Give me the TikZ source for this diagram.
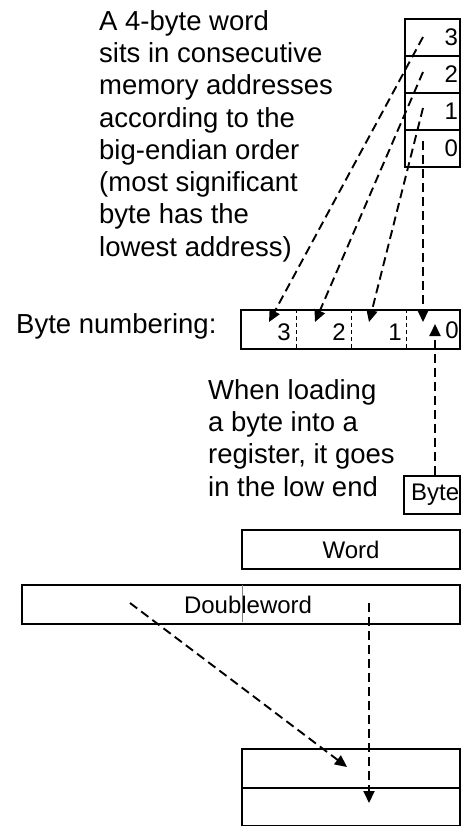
\documentclass[tikz,border=0pt]{standalone}
\usepackage{fontspec}
\setmainfont{Liberation Sans}
\usetikzlibrary{arrows.meta}
\begin{document}
\begin{tikzpicture}[x=1pt,y=-1pt,
  box/.style={draw, line width=2.1pt, inner sep=0pt, anchor=north west,
    font=\fontsize{24}{28}\selectfont},
  memcell/.style={box, minimum width=55pt, minimum height=37pt,
    text width=51pt, align=right},
  note/.style={anchor=north west, inner sep=0pt, align=left,
    font=\fontsize{27.5}{32.3}\selectfont},
  digit/.style={inner sep=0pt, font=\fontsize{24}{28}\selectfont},
  divider/.style={line width=1pt, dash pattern=on 4pt off 3pt},
  flow/.style={line width=1.9pt, dash pattern=on 9pt off 5pt,
    -{Triangle[length=12pt,width=11pt]}}
]
\useasboundingbox (0,0) rectangle (461,826);

% memory column, addresses 3..0 from top
\node[memcell] (m3) at (404,18)  {3};
\node[memcell] (m2) at (404,55)  {2};
\node[memcell] (m1) at (404,92)  {1};
\node[memcell] (m0) at (404,129) {0};

\node[note] (explain) at (99,10) {A 4-byte word\\sits in consecutive\\memory addresses\\according to the\\big-endian order\\(most significant\\byte has the\\lowest address)};

% byte-numbered register
\node[note, anchor=west] (bnlabel) at (16,326) {Byte numbering:};
\node[box, minimum width=219pt, minimum height=39pt] (bn) at (240,309) {};
\draw[divider] (296,309) -- (296,348);
\draw[divider] (351,309) -- (351,348);
\draw[divider] (406,309) -- (406,348);
\node[digit, anchor=east] (d3) at (291,332) {3};
\node[digit, anchor=east] (d2) at (346,332) {2};
\node[digit, anchor=east] (d1) at (402,332) {1};
\node[digit, anchor=east] (d0) at (459,330) {0};

\node[note] (loadnote) at (208,379) {When loading\\a byte into a\\register, it goes\\in the low end};

% operand sizes
\node[box, minimum width=56pt, minimum height=38pt] (byte) at (403,475) {};
\node[digit, anchor=west] (bytelbl) at (411,495) {Byte};
\node[box, minimum width=218pt, minimum height=39pt] (word) at (241,529) {Word};
\node[box, minimum width=438pt, minimum height=39pt] (dword) at (21,584) {\hspace*{14pt}Doubleword};
\draw[line width=0.6pt, gray] (242,585) -- (242,622);

% destination memory
\node[box, minimum width=218pt, minimum height=39pt] (r1) at (241,748) {};
\node[box, minimum width=218pt, minimum height=38pt] (r2) at (241,787) {};

% arrow end points
\coordinate (s3) at (423,37);
\coordinate (s2) at (423,72);
\coordinate (s1) at (423,108);
\coordinate (s0) at (423,141);
\coordinate (t3) at (269,322);
\coordinate (t2) at (315,322);
\coordinate (t1) at (369,322);
\coordinate (t0) at (423,322);
\coordinate (tb) at (435,324);
\coordinate (dwa) at (130,603);
\coordinate (dwb) at (369,603);
\coordinate (ta) at (347,767);
\coordinate (tbb) at (369,803);

\draw[flow] (s3) -- (t3);
\draw[flow] (s2) -- (t2);
\draw[flow] (s1) -- (t1);
\draw[flow] (s0) -- (t0);
\draw[flow] (byte.north -| tb) -- (tb);
\draw[flow] (dwa) -- (ta);
\draw[flow] (dwb) -- (tbb);
\end{tikzpicture}
\end{document}
